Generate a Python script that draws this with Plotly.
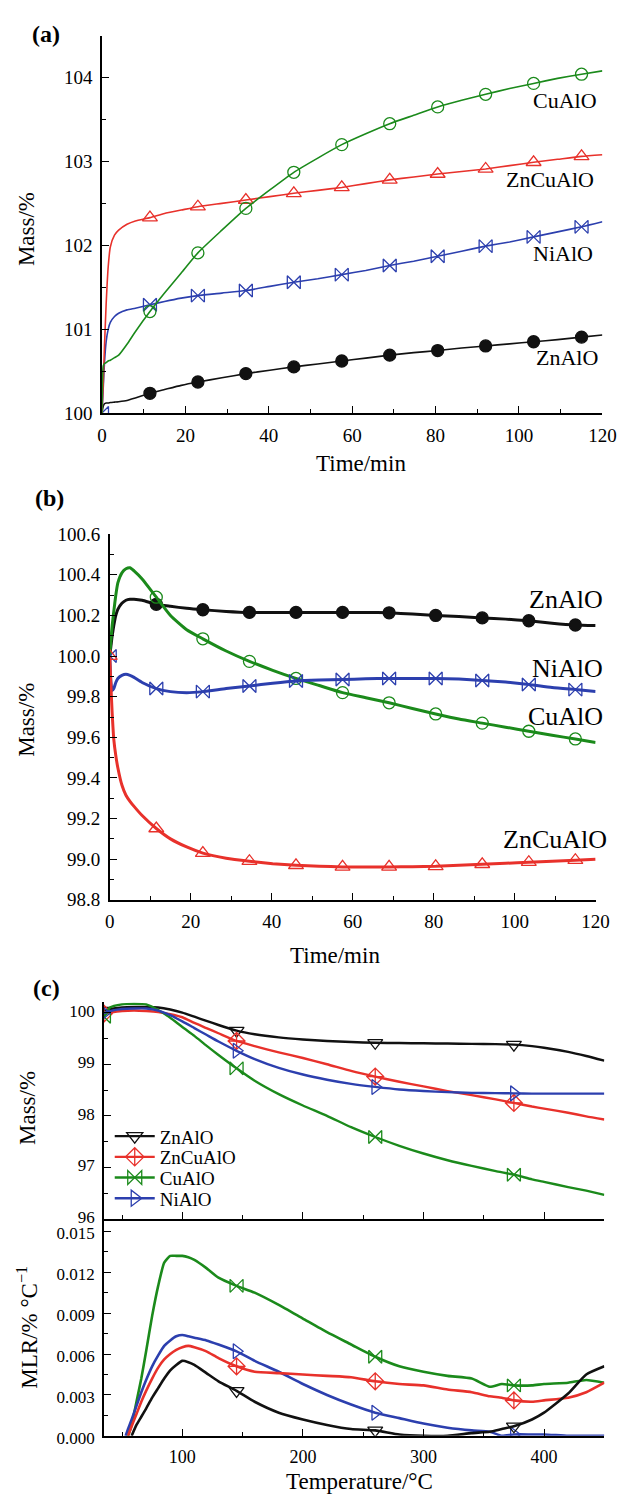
import plotly.graph_objects as go

W, H = 629, 1505
FONT = "Liberation Serif"
BLACK = "#111111"
RED = "#e8312b"
GREEN = "#1b8a1b"
BLUE = "#2c3fae"

# ---------------- (a) mass gain vs time ----------------
t_a = [0, 0.3, 0.6, 1, 1.5, 2, 3, 4, 6, 8, 11.5, 15, 19, 23, 28.75, 34.5, 40.25,
       46, 51.75, 57.5, 63.25, 69, 74.75, 80.5, 86.25, 92, 97.75, 103.5, 109.25, 115, 120]
znalo_a = [100.0, 100.08, 100.11, 100.12, 100.12, 100.125, 100.13, 100.135, 100.15, 100.18,
           100.235, 100.28, 100.33, 100.37, 100.42, 100.47, 100.51, 100.55, 100.585, 100.62,
           100.655, 100.69, 100.72, 100.745, 100.775, 100.80, 100.825, 100.85, 100.875, 100.905, 100.93]
nialo_a = [100.0, 100.3, 100.6, 100.85, 101.0, 101.08, 101.15, 101.19, 101.23, 101.25,
           101.29, 101.33, 101.37, 101.40, 101.43, 101.46, 101.51, 101.56, 101.60, 101.65,
           101.70, 101.76, 101.81, 101.87, 101.93, 101.99, 102.04, 102.10, 102.16, 102.22, 102.28]
zncualo_a = [100.0, 100.35, 100.8, 101.3, 101.75, 101.98, 102.12, 102.18, 102.25, 102.29,
             102.33, 102.38, 102.42, 102.46, 102.50, 102.54, 102.58, 102.62, 102.655, 102.69,
             102.735, 102.78, 102.815, 102.85, 102.88, 102.91, 102.95, 102.99, 103.025, 103.06, 103.08]
cualo_a = [100.0, 100.56, 100.59, 100.6, 100.62, 100.63, 100.66, 100.69, 100.82, 100.97,
           101.21, 101.43, 101.67, 101.91, 102.18, 102.44, 102.66, 102.87, 103.04, 103.20,
           103.33, 103.45, 103.55, 103.65, 103.73, 103.80, 103.87, 103.93, 103.99, 104.04, 104.08]

# ---------------- (b) mass change vs time ----------------
t_b = [0, 0.3, 0.6, 1, 1.5, 2, 3, 4, 5, 6, 8, 11.5, 15, 19, 23, 28.75, 34.5, 40.25,
       46, 51.75, 57.5, 63.25, 69, 74.75, 80.5, 86.25, 92, 97.75, 103.5, 109.25, 115, 120]
znalo_b = [100.0, 100.05, 100.1, 100.15, 100.2, 100.23, 100.26, 100.275, 100.28, 100.28, 100.275,
           100.255, 100.245, 100.235, 100.228, 100.22, 100.215, 100.215, 100.215, 100.215, 100.215,
           100.215, 100.213, 100.207, 100.20, 100.195, 100.188, 100.182, 100.174, 100.162, 100.153, 100.15]
cualo_b = [100.0, 100.08, 100.15, 100.22, 100.3, 100.36, 100.41, 100.43, 100.435, 100.42, 100.38,
           100.29, 100.2, 100.13, 100.085, 100.025, 99.974, 99.93, 99.89, 99.855, 99.82,
           99.795, 99.77, 99.742, 99.715, 99.69, 99.67, 99.65, 99.63, 99.61, 99.592, 99.575]
nialo_b = [100.0, 99.87, 99.83, 99.84, 99.87, 99.89, 99.905, 99.91, 99.905, 99.895, 99.87,
           99.84, 99.825, 99.82, 99.825, 99.84, 99.853, 99.866, 99.877, 99.882, 99.885,
           99.888, 99.89, 99.89, 99.89, 99.887, 99.88, 99.872, 99.86, 99.845, 99.835, 99.826]
zncualo_b = [100.0, 99.85, 99.72, 99.59, 99.51, 99.45, 99.365, 99.315, 99.285, 99.26, 99.215,
             99.151, 99.1, 99.06, 99.03, 99.005, 98.99, 98.978, 98.97, 98.965, 98.962,
             98.961, 98.962, 98.963, 98.965, 98.97, 98.975, 98.98, 98.985, 98.99, 98.995, 99.0]

marks_ab = [11.5, 23, 34.5, 46, 57.5, 69, 80.5, 92, 103.5, 115]
marks_ab0 = [0] + marks_ab

# ---------------- (c) TG / MLR vs temperature ----------------
T_m = [35, 40, 50, 60, 70, 80, 90, 100, 110, 120, 130, 145, 160, 180, 200, 220, 240,
       260, 280, 300, 320, 340, 360, 375, 390, 400, 420, 435, 450]
znalo_m = [100.04, 100.07, 100.1, 100.11, 100.11, 100.1, 100.06, 100.0, 99.92, 99.84, 99.76,
           99.65, 99.58, 99.52, 99.48, 99.45, 99.43, 99.415, 99.41, 99.405, 99.4, 99.395,
           99.39, 99.38, 99.35, 99.32, 99.24, 99.16, 99.07]
zncualo_m = [99.98, 100.0, 100.03, 100.04, 100.03, 100.01, 99.97, 99.91, 99.8, 99.7, 99.6,
             99.45, 99.35, 99.23, 99.12, 99.0, 98.87, 98.76, 98.66, 98.57, 98.48, 98.4,
             98.32, 98.25, 98.18, 98.14, 98.06, 97.99, 97.93]
cualo_m = [99.92, 100.1, 100.16, 100.17, 100.16, 100.05, 99.9, 99.72, 99.55, 99.36, 99.18,
           98.92, 98.68, 98.42, 98.2, 98.0, 97.78, 97.59, 97.42, 97.27, 97.14, 97.03,
           96.93, 96.86, 96.77, 96.72, 96.62, 96.55, 96.47]
nialo_m = [99.99, 100.03, 100.07, 100.08, 100.08, 100.04, 99.95, 99.83, 99.7, 99.57, 99.44,
           99.26, 99.1, 98.93, 98.8, 98.7, 98.62, 98.56, 98.51, 98.48, 98.46, 98.445,
           98.44, 98.435, 98.43, 98.43, 98.43, 98.43, 98.43]

T_r = [53, 55, 58, 62, 66, 70, 75, 80, 85, 90, 95, 100, 105, 110, 120, 130, 145, 160,
       180, 200, 220, 240, 260, 280, 300, 320, 340, 355, 365, 375, 390, 400, 420, 435, 450]
znalo_r = [None, None, 0.0, 0.0008, 0.0014, 0.0020, 0.0028, 0.0035, 0.0042, 0.0048, 0.0052,
           0.0055, 0.0054, 0.0052, 0.0046, 0.0040, 0.0033, 0.0025, 0.0017, 0.0012, 0.0008,
           0.0005, 0.0004, 0.0001, 0.0, 0.0, 0.0002, 0.0003, 0.0005, 0.0007, 0.0012, 0.0017,
           0.0031, 0.0045, 0.0051]
zncualo_r = [None, 0.0, 0.0007, 0.0016, 0.0025, 0.0033, 0.0042, 0.0050, 0.0056, 0.0060, 0.0063,
             0.0065, 0.0066, 0.0065, 0.0062, 0.0057, 0.0051, 0.0047, 0.0046, 0.0045, 0.0044,
             0.0043, 0.0040, 0.0038, 0.0037, 0.0034, 0.0032, 0.0029, 0.0028, 0.0026, 0.0025,
             0.0026, 0.0028, 0.0032, 0.0039]
cualo_r = [None, 0.0, 0.0008, 0.0025, 0.0042, 0.0062, 0.0088, 0.0110, 0.0127, 0.0132, 0.0132,
           0.0132, 0.0131, 0.0129, 0.0123, 0.0116, 0.0110, 0.0105, 0.0096, 0.0086, 0.0076,
           0.0067, 0.0058, 0.0051, 0.0047, 0.0044, 0.0042, 0.0036, 0.0038, 0.0037, 0.0037,
           0.0038, 0.0039, 0.0041, 0.0039]
nialo_r = [0.0, 0.0005, 0.0012, 0.0022, 0.0032, 0.0041, 0.0051, 0.0059, 0.0066, 0.0070, 0.0073,
           0.0074, 0.0073, 0.0072, 0.0070, 0.0067, 0.0062, 0.0055, 0.0047, 0.0038, 0.0030,
           0.0023, 0.0017, 0.0013, 0.0009, 0.0006, 0.0004, 0.0003, 0.0, 0.0001, 0.0001,
           0.0001, 0.0, 0.0, 0.0]

marks_m = [35, 145, 260, 375]
marks_r = [145, 260, 375]

legend_names = ["ZnAlO", "ZnCuAlO", "CuAlO", "NiAlO"]

fig = go.Figure()


def series(x, y, marks, color, width, xa, ya, symbol, size, mlw=1.3):
    fig.add_trace(go.Scatter(
        x=x, y=y, mode="lines", xaxis=xa, yaxis=ya, showlegend=False, hoverinfo="skip",
        line=dict(color=color, width=width, shape="spline", smoothing=0.5)))
    idx = [x.index(m) for m in marks]
    fig.add_trace(go.Scatter(
        x=[x[i] for i in idx], y=[y[i] for i in idx], mode="markers", xaxis=xa, yaxis=ya,
        showlegend=False, hoverinfo="skip",
        marker=dict(symbol=symbol, size=size, color=color, line=dict(color=color, width=mlw))))


# (a)
series(t_a, znalo_a, marks_ab, BLACK, 1.6, "x", "y", "circle", 12)
series(t_a, nialo_a, marks_ab0, BLUE, 1.6, "x", "y", "bowtie-open", 13)
series(t_a, zncualo_a, marks_ab, RED, 1.6, "x", "y", "triangle-up-open", 13)
series(t_a, cualo_a, marks_ab, GREEN, 1.6, "x", "y", "circle-open", 12)
# (b)
series(t_b, znalo_b, marks_ab, BLACK, 3, "x2", "y2", "circle", 12)
series(t_b, cualo_b, marks_ab, GREEN, 3, "x2", "y2", "circle-open", 12)
series(t_b, nialo_b, marks_ab0, BLUE, 3, "x2", "y2", "bowtie-open", 13)
series(t_b, zncualo_b, marks_ab0, RED, 3, "x2", "y2", "triangle-up-open", 13)
# (c) mass
series(T_m, znalo_m, marks_m, BLACK, 2.4, "x3", "y3", "triangle-down-open", 13)
series(T_m, zncualo_m, marks_m, RED, 2.4, "x3", "y3", "diamond-cross-open", 13)
series(T_m, cualo_m, marks_m, GREEN, 2.4, "x3", "y3", "bowtie-open", 13)
series(T_m, nialo_m, marks_m, BLUE, 2.4, "x3", "y3", "triangle-right-open", 13)
# (c) mass loss rate
series(T_r, cualo_r, marks_r, GREEN, 2.6, "x4", "y4", "bowtie-open", 13)
series(T_r, nialo_r, marks_r, BLUE, 2.6, "x4", "y4", "triangle-right-open", 13)
series(T_r, zncualo_r, marks_r, RED, 2.6, "x4", "y4", "diamond-cross-open", 13)
series(T_r, znalo_r, marks_r, BLACK, 2.6, "x4", "y4", "triangle-down-open", 13)

# legend entries for (c): one small legend per entry so the rows sit tightly
leg_style = [(BLACK, "triangle-down-open"), (RED, "diamond-cross-open"),
             (GREEN, "bowtie-open"), (BLUE, "triangle-right-open")]
leg_rows = [1143, 1164, 1185, 1206]
legends = {}
for i, (name, (color, sym), yc) in enumerate(zip(legend_names, leg_style, leg_rows)):
    key = "legend" if i == 0 else f"legend{i + 1}"
    fig.add_trace(go.Scatter(
        x=[None], y=[None], mode="lines+markers", name=name, xaxis="x3", yaxis="y3",
        legend=key, line=dict(color=color, width=2.4),
        marker=dict(symbol=sym, size=14, color=color, line=dict(color=color, width=1.3))))
    legends[key] = dict(x=108 / W, y=1 - yc / H, xanchor="left", yanchor="middle",
                        bgcolor="rgba(0,0,0,0)", borderwidth=0,
                        font=dict(family=FONT, size=19, color="black"),
                        itemwidth=40, tracegroupgap=0)


def px_dom(a, b, total):
    return [a / total, b / total]


def py_dom(top, bottom):
    return [1 - bottom / H, 1 - top / H]


def axis(rng, dom, dtick, minor, anchor, tick0=0, fmt=None, labels=True, size=19, shift=0):
    d = dict(range=rng, domain=dom, anchor=anchor, tick0=tick0, dtick=dtick,
             ticks="inside", ticklen=7, tickwidth=1.4, tickcolor="black",
             minor=dict(ticks="inside", ticklen=4, tickwidth=1.4, tickcolor="black", dtick=minor),
             showline=True, linecolor="black", linewidth=1.6, showgrid=False, zeroline=False,
             showticklabels=labels, tickfont=dict(family=FONT, size=size, color="black"),
             ticklabelstandoff=4, ticklabelshift=shift)
    if fmt:
        d["tickformat"] = fmt
    return d


xa = px_dom(100, 616, W)
xb = px_dom(108, 609, W)
xc = px_dom(102, 618, W)

fig.update_layout(
    width=W, height=H, margin=dict(l=0, r=0, t=0, b=0),
    paper_bgcolor="white", plot_bgcolor="white",
    font=dict(family=FONT, color="black"),
    xaxis=axis([0, 120], xa, 20, 10, "y"),
    yaxis=axis([100, 104.5], py_dom(26, 409), 1, 0.5, "x", tick0=100),
    xaxis2=axis([0, 120], xb, 20, 10, "y2"),
    yaxis2=axis([98.8, 100.6], py_dom(532, 903), 0.2, 0.1, "x2", tick0=98.8, fmt=".1f"),
    xaxis3=axis([35, 450], xc, 100, 50, "y3", labels=False),
    yaxis3=axis([96, 100.2], py_dom(1007, 1227), 1, 0.5, "x3", tick0=96, size=17, shift=-2),
    xaxis4=axis([35, 450], xc, 100, 50, "y4", size=18),
    yaxis4=axis([0, 0.0159], py_dom(1227, 1447), 0.003, 0.0015, "x4", fmt=".3f", size=17, shift=2),
    **legends,
)


def text(s, x, y, size, angle=0, bold=False):
    fig.add_annotation(text=f"<b>{s}</b>" if bold else s, x=x / W, y=1 - y / H,
                       xref="paper", yref="paper", xanchor="center", yanchor="middle",
                       showarrow=False, textangle=angle,
                       font=dict(family=FONT, size=size, color="black"))


# panel tags
text("(a)", 42, 24, 24, bold=True)
text("(b)", 46, 495, 24, bold=True)
text("(c)", 43, 993, 24, bold=True)
# axis titles
text("Mass/%", 22, 222, 23, angle=-90)
text("Time/min", 367, 460, 23)
text("Mass/%", 22, 720, 23, angle=-90)
text("Time/min", 340, 960, 23)
text("Mass/%", 23, 1114, 23, angle=-90)
text("MLR/% °C<sup>−1</sup>", 23, 1337, 23, angle=-90)
text("Temperature/°C", 366, 1493, 23)
# series labels
text("CuAlO", 577, 92, 22)
text("ZnCuAlO", 562, 172, 22)
text("NiAlO", 575, 247, 22)
text("ZnAlO", 579, 353, 22)
text("ZnAlO", 578, 598, 26)
text("NiAlO", 580, 668, 26)
text("CuAlO", 578, 717, 26)
text("ZnCuAlO", 567, 842, 26)

fig.write_html("out.html")
